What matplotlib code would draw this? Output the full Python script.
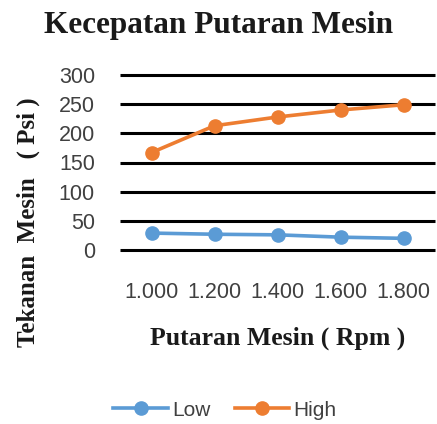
import matplotlib.pyplot as plt

rpm = ['1.000', '1.200', '1.400', '1.600', '1.800']
low = [29, 27, 26, 22, 20]
high = [167, 213, 228, 240, 249]
yticks = [0, 50, 100, 150, 200, 250, 300]

fig = plt.figure(figsize=(4.37, 4.24), dpi=100)
ax = fig.add_axes([120 / 437, 1 - 250 / 424, 315 / 437, 175 / 424])

x = list(range(len(rpm)))
ax.hlines(yticks, -0.5, 4.5, colors='black', linewidth=2.2, clip_on=False, zorder=1)
ax.plot(x, low, color='#5B9BD5', marker='o', markersize=9.5, linewidth=2.6, label='Low', zorder=3)
ax.plot(x, high, color='#ED7D31', marker='o', markersize=9.5, linewidth=2.6, label='High', zorder=3)

ax.set_xlim(-0.5, 4.5)
ax.set_ylim(0, 300)
ax.set_yticks(yticks)
ax.set_xticks(x)
ax.set_xticklabels(rpm)
for s in ax.spines.values():
    s.set_visible(False)
ax.tick_params(length=0, labelsize=15.5, colors='#404040')
ax.tick_params(axis='y', pad=18)
ax.tick_params(axis='x', pad=23)
for lab in ax.get_xticklabels() + ax.get_yticklabels():
    lab.set_family('Liberation Sans')

serif = {'family': 'Liberation Serif', 'weight': 'bold', 'color': '#1a1a1a'}
fig.text(0.5, 1 - 25 / 424, 'Kecepatan Putaran Mesin', ha='center', va='center', fontsize=22.5, **serif)
fig.text(278 / 437, 1 - 338 / 424, 'Putaran Mesin ( Rpm )', ha='center', va='center', fontsize=18.5, **serif)
fig.text(28 / 437, 1 - 222 / 424, 'Tekanan  Mesin   ( Psi )', ha='center', va='center', rotation=90, fontsize=18, **serif)

fig.legend(loc='center', bbox_to_anchor=(225 / 437, 1 - 410 / 424), ncol=2, frameon=False,
           prop={'family': 'Liberation Sans', 'size': 15}, handlelength=2.6, columnspacing=1.2, handletextpad=0.2,
           labelcolor='#404040')

fig.savefig('out.png', dpi=100)
